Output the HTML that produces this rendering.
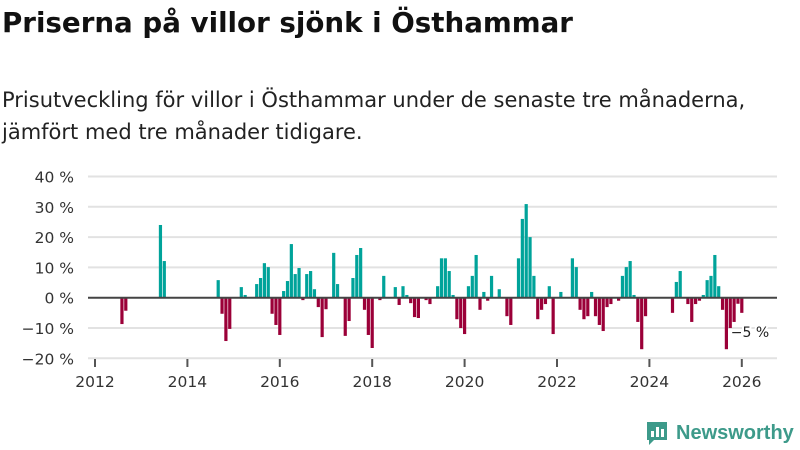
<!DOCTYPE html>
<html><head><meta charset="utf-8"><style>
body{margin:0;width:800px;height:450px;background:#fff;font-family:"DejaVu Sans","Liberation Sans",sans-serif;overflow:hidden;position:relative}
h1{position:absolute;left:2px;top:6px;margin:0;font-size:27.7px;font-weight:bold;color:#111}
.sub{position:absolute;left:2px;top:84px;margin:0;font-size:21px;line-height:32px;color:#222}
svg{position:absolute;left:0;top:0}
</style></head><body>
<h1>Priserna på villor sjönk i Östhammar</h1>
<p class="sub">Prisutveckling för villor i Östhammar under de senaste tre månaderna,<br>jämfört med tre månader tidigare.</p>
<svg id="chart" width="800" height="450"></svg>
<script>
const months=["2012-08","2012-09","2013-06","2013-07","2014-09","2014-10","2014-11","2014-12","2015-03","2015-04","2015-07","2015-08","2015-09","2015-10","2015-11","2015-12","2016-01","2016-02","2016-03","2016-04","2016-05","2016-06","2016-07","2016-08","2016-09","2016-10","2016-11","2016-12","2017-01","2017-03","2017-04","2017-06","2017-07","2017-08","2017-09","2017-10","2017-11","2017-12","2018-01","2018-03","2018-04","2018-07","2018-08","2018-09","2018-10","2018-11","2018-12","2019-01","2019-03","2019-04","2019-06","2019-07","2019-08","2019-09","2019-10","2019-11","2019-12","2020-01","2020-02","2020-03","2020-04","2020-05","2020-06","2020-07","2020-08","2020-10","2020-12","2021-01","2021-03","2021-04","2021-05","2021-06","2021-07","2021-08","2021-09","2021-10","2021-11","2021-12","2022-02","2022-05","2022-06","2022-07","2022-08","2022-09","2022-10","2022-11","2022-12","2023-01","2023-02","2023-03","2023-05","2023-06","2023-07","2023-08","2023-09","2023-10","2023-11","2023-12","2024-07","2024-08","2024-09","2024-11","2024-12","2025-01","2025-02","2025-03","2025-04","2025-05","2025-06","2025-07","2025-08","2025-09","2025-10","2025-11","2025-12","2026-01"];
const values=[-8.7,-4.3,24,12.1,5.8,-5.3,-14.3,-10.3,3.5,0.9,4.5,6.5,11.4,10.1,-5.3,-9,-12.3,2.2,5.5,17.7,7.8,9.8,-0.8,7.8,8.8,2.8,-3.1,-13,-3.8,14.8,4.5,-12.6,-7.7,6.5,14.1,16.4,-4,-12.3,-16.6,-0.8,7.2,3.5,-2.4,3.8,0.9,-1.8,-6.4,-6.7,-0.8,-2.1,3.8,13,13,8.8,0.9,-7.1,-10,-12,3.8,7.2,14.1,-4,1.9,-1,7.2,2.8,-6.1,-9,13,26,30.9,20,7.2,-7.1,-4,-2.1,3.8,-12,1.9,13,10.1,-4,-7.1,-6.1,1.9,-6.1,-9,-11,-3.1,-2.1,-1,7.2,10.1,12.1,0.9,-8,-17,-6.1,-5,5.2,8.8,-2.1,-8,-2.1,-1,0.9,5.8,7.2,14.1,3.8,-4,-17,-10,-8,-2,-5];
const yTicks=[40,30,20,10,0,-10,-20];
const yLabels=["40 %","30 %","20 %","10 %","0 %","−10 %","−20 %"];
const xTicks=[2012,2014,2016,2018,2020,2022,2024,2026];
const lastLabel="−5 %";
const NS="http://www.w3.org/2000/svg",svg=document.getElementById('chart');
const y=v=>297.7-v*3.03;
const x=(yr,mo)=>95+((yr-2012)*12+mo)*3.85;
function mk(t,a){const e=document.createElementNS(NS,t);for(const k in a)e.setAttribute(k,a[k]);svg.appendChild(e);return e;}
yTicks.forEach((t,i)=>{
 if(t!==0){const g=mk('line',{x1:88,x2:777,y1:y(t),y2:y(t),stroke:'#e2e2e2','stroke-width':2});
 
 }
 const l=mk('text',{x:74,y:y(t)+6,'text-anchor':'end','font-size':15.5,fill:'#333'});l.textContent=yLabels[i];
 
 
});
xTicks.forEach(t=>{
 const tk=mk('line',{x1:x(t,0),x2:x(t,0),y1:359,y2:367,stroke:'#555','stroke-width':2});
 
 
 const l=mk('text',{x:x(t,0),y:387,'text-anchor':'middle','font-size':15.5,fill:'#333'});l.textContent=t;
 
 
});
months.forEach((m,i)=>{
 const [yr,mo]=m.split('-').map(Number);const v=values[i];const cx=x(yr,mo-1);
 const r=mk('rect',{x:cx-1.6,width:3.2,y:Math.min(y(v),y(0)),height:Math.abs(y(v)-y(0)),fill:v>=0?'#00a39a':'#9b0038'});
 
 
});
const z=mk('line',{x1:88,x2:777,y1:y(0),y2:y(0),stroke:'#444','stroke-width':2});


const [ly,lm]=months[months.length-1].split('-').map(Number);
const lab=mk('text',{x:x(ly,lm-1)-11,y:y(values[values.length-1])+24,'font-size':14,fill:'#222',stroke:'#fff','stroke-width':4,'paint-order':'stroke'});
lab.textContent=lastLabel;


</script>
<div style="position:absolute;left:645px;top:420px;display:flex;align-items:center;gap:7px">
<svg width="24" height="26" viewBox="0 0 24 26" style="position:static"><path d="M2 2h20v18H9l-5 5v-5H2z" fill="#3d9a8a"/><rect x="6" y="11" width="3" height="6" fill="#fff"/><rect x="11" y="7" width="3" height="10" fill="#fff"/><rect x="16" y="9" width="3" height="8" fill="#fff"/></svg>
<span style="font-size:20px;font-weight:bold;color:#3d9a8a;font-family:'Liberation Sans',sans-serif">Newsworthy</span></div>
</body></html>
